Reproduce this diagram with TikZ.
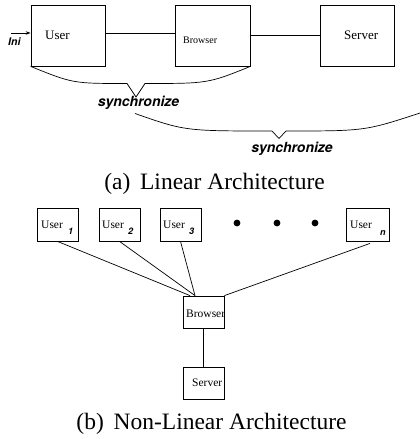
\documentclass[tikz,border=0pt]{standalone}
\usepackage{fontspec}
\setmainfont{Liberation Serif}
\newfontfamily\hvfont{TeX Gyre Heros}
\usetikzlibrary{arrows.meta}
\tikzset{
  box/.style={draw, line width=0.8pt, inner sep=0pt},
  bigbox/.style={box, minimum width=74pt, minimum height=61pt},
  smallbox/.style={box, minimum width=41pt, minimum height=33pt},
  wire/.style={line width=0.7pt},
  lbl/.style={anchor=base west, inner sep=0pt},
  tag/.style={anchor=base west, inner sep=0pt, font=\hvfont\bfseries\itshape\fontsize{9}{10}\selectfont},
  sync/.style={anchor=base, inner sep=0pt, font=\hvfont\bfseries\itshape\fontsize{14}{16}\selectfont},
  caption/.style={anchor=base, inner sep=0pt, font=\fontsize{23.5}{26}\selectfont},
}
\begin{document}
\begin{tikzpicture}[x=1pt,y=-1pt]
\useasboundingbox (0,0) rectangle (420,439);

% ---- (a) linear chain ----
\node[bigbox] (user) at (68,35.5) {};
\node[bigbox, minimum width=75pt] (browser) at (212.5,35.5) {};
\node[bigbox] (server) at (357,35.5) {};
\node[lbl, font=\fontsize{13}{15}\selectfont] (userlbl) at (45,39) {User};
\node[lbl, font=\fontsize{10}{12}\selectfont] (browserlbl) at (183,43) {Browser};
\node[lbl, font=\fontsize{13}{15}\selectfont] (serverlbl) at (344,39) {Server};

\draw[wire] ([yshift=2.5pt]user.east) -- ([yshift=2.5pt]browser.west);
\draw[wire] (browser.east) -- (server.west);

\coordinate (ini) at (11,33);
\draw[wire, -{Stealth[length=5pt,width=3.5pt]}] (ini) -- (user.west |- ini);
\node[tag, font=\hvfont\bfseries\itshape\fontsize{10.5}{12}\selectfont] (initag) at (8,45) {Ini};

% braces
\draw[wire] (user.south west) .. controls (73,83.5) .. (127,83.5) -- (136,97) -- (145,83.5)
  .. controls (208,83.5) .. (browser.south east);
\node[sync] (sync1) at (138.5,106) {synchronize};

\coordinate (b2l) at (135,113.5);
\coordinate (b2r) at (420,113);
\draw[wire] (b2l) .. controls (185,131) .. (272,131) -- (279,138.5) -- (286,131)
  .. controls (365,131) .. (b2r);
\node[sync] (sync2) at (292,152) {synchronize};

\node[caption] (capa) at (214.5,189) {(a)\, Linear Architecture};

% ---- (b) star around the browser ----
\node[smallbox] (u1) at (57.5,224.5) {};
\node[smallbox] (u2) at (119.5,224.5) {};
\node[smallbox] (u3) at (180.5,224.5) {};
\node[smallbox, minimum width=43pt] (un) at (367.5,224.5) {};

\node[lbl, font=\fontsize{11.5}{13}\selectfont] (u1lbl) at (41,228) {User};
\node[tag] (u1sub) at (68,234) {1};
\node[lbl, font=\fontsize{11.5}{13}\selectfont] (u2lbl) at (102,228) {User};
\node[tag] (u2sub) at (128,234) {2};
\node[lbl, font=\fontsize{11.5}{13}\selectfont] (u3lbl) at (163,228) {User};
\node[tag] (u3sub) at (189,234) {3};
\node[lbl, font=\fontsize{11.5}{13}\selectfont] (unlbl) at (350,228) {User};
\node[tag] (unsub) at (380,235) {n};

\foreach \x/\n in {237/d1,277/d2,315/d3}
  \fill (\x,223) circle (3.4pt) coordinate (\n);

\node[smallbox, minimum height=32pt] (br2) at (203.5,312) {};
\node[smallbox, minimum height=32pt] (sv2) at (203.5,383) {};
\node[lbl, font=\fontsize{11.5}{13}\selectfont] (br2lbl) at (186,317) {Browser};
\node[lbl, font=\fontsize{11.5}{13}\selectfont] (sv2lbl) at (192,386) {Server};

\draw[wire] (u1.south) -- ([xshift=-13.5pt]br2.north);
\draw[wire] (u2.south) -- ([xshift=-8.5pt]br2.north);
\draw[wire] (u3.south) -- ([xshift=-8.5pt]br2.north);
\draw[wire] ([xshift=2.5pt,yshift=-2pt]un.south) -- (br2.north east);
\draw[wire] (br2) -- (sv2);

\node[caption] (capb) at (211.5,429) {(b)\, Non-Linear Architecture};
\end{tikzpicture}
\end{document}
